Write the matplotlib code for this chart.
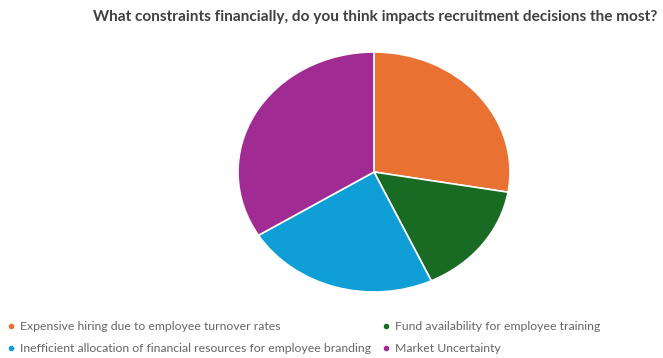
import matplotlib
matplotlib.use("Agg")
import matplotlib.pyplot as plt
from matplotlib.lines import Line2D

# Survey answers (counts)
labels = [
    "Expensive hiring due to employee turnover rates",
    "Fund availability for employee training",
    "Inefficient allocation of financial resources for employee branding",
    "Market Uncertainty",
]
counts = [18, 10, 15, 22]
colors = ["#E97132", "#196B24", "#0F9ED5", "#A02B93"]
title = "What constraints financially, do you think impacts recruitment decisions the most?"

W, H = 663, 358
fig = plt.figure(figsize=(W / 100, H / 100), dpi=100)
fig.patch.set_facecolor("white")

# pie is slightly stretched horizontally in the reference
cx, cy, rx, ry = 374, 172, 136, 120
ax = fig.add_axes([(cx - rx) / W, 1 - (cy + ry) / H, 2 * rx / W, 2 * ry / H])
ax.pie(counts, colors=colors, startangle=90, counterclock=False,
       wedgeprops=dict(edgecolor="white", linewidth=1.2))
ax.set_aspect("auto")
ax.set_xlim(-1, 1)
ax.set_ylim(-1, 1)
ax.axis("off")

fig.text(375 / W, 1 - 17 / H, title, ha="center", va="center",
         fontsize=11.1, fontweight="bold", color="#404040", family="Lato")

handles = [Line2D([0], [0], marker="o", linestyle="none", markersize=3,
                  markerfacecolor=c, markeredgecolor=c) for c in colors]
# legend fills column-wise, reorder so rows read like the reference
order = [0, 2, 1, 3]
fig.legend([handles[i] for i in order], [labels[i] for i in order],
           ncol=2, loc="upper left",
           bbox_to_anchor=(-0.009, 1 - 310 / H), frameon=False,
           prop=dict(family="Lato", size=8.8), labelcolor="#666666",
           handletextpad=0.2, handlelength=1.0, columnspacing=0.75,
           labelspacing=0.9)

fig.savefig("out.png", dpi=100)
